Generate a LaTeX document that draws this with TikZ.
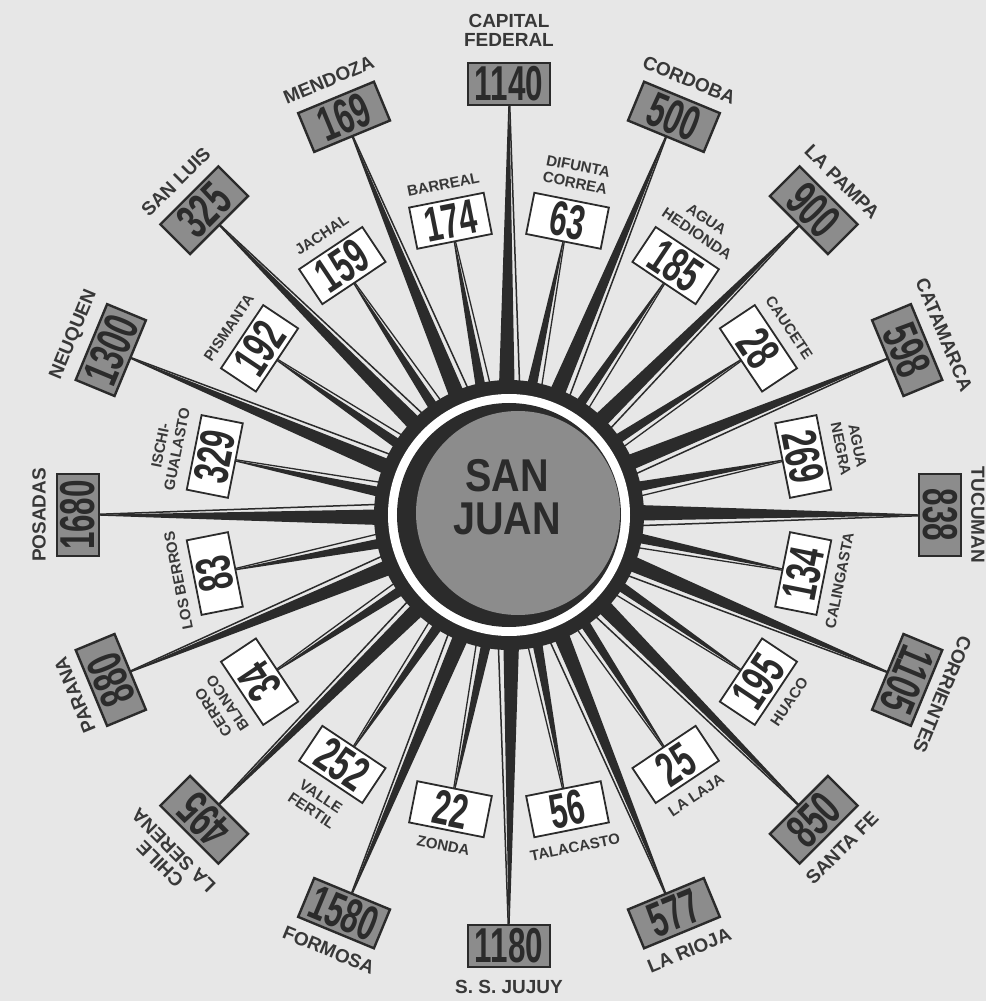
\documentclass[tikz,border=0pt]{standalone}
\usepackage{fontspec}
\setmainfont{Liberation Sans}
\newfontfamily\numfont{Liberation Sans}[FakeStretch=0.64]
\newfontfamily\hubfont{Liberation Sans}[FakeStretch=0.86]
\usetikzlibrary{calc}
\definecolor{paper}{HTML}{E7E7E7}
\definecolor{ink}{HTML}{2B2B2B}
\definecolor{plate}{HTML}{8C8C8C}
\definecolor{lblgray}{HTML}{383838}
\pgfdeclarelayer{paper}
\pgfdeclarelayer{spokes}
\pgfsetlayers{paper,spokes,main}
\tikzset{
  obox/.style={draw=ink, line width=2.4pt, fill=plate, minimum width=82pt, minimum height=42pt, inner sep=0pt, font=\numfont\bfseries\fontsize{49}{49}\selectfont, text=ink},
  ibox/.style={draw=ink, line width=1.8pt, fill=white, minimum width=76pt, minimum height=42pt, inner sep=0pt, font=\numfont\bfseries\fontsize{49}{49}\selectfont, text=ink},
  olbl/.style={font=\bfseries\fontsize{19}{19}\selectfont, text=lblgray, align=center, inner sep=0pt},
  ilbl/.style={font=\bfseries\fontsize{15}{17}\selectfont, text=lblgray, align=center, inner sep=0pt},
  disc/.style={circle, inner sep=0pt, draw=none},
  hubtxt/.style={font=\hubfont\bfseries\fontsize{46}{43}\selectfont, text=ink, align=center, inner sep=0pt},
}
% spoke to an outer plate: dark half on the ccw side, thin edge on the cw side
\newcommand{\ospoke}[2]{%
  \fill[ink] ([shift={(#2+4.5:128)}]ring.center) -- ([shift={(#2-2.5:128)}]ring.center) -- (#1.center) -- cycle;
  \draw[ink, line width=1.5pt] ([shift={(#2-4.8:128)}]ring.center) -- (#1.center);}
% spoke to an inner plate
\newcommand{\ispoke}[2]{%
  \fill[ink] ([shift={(#2+3.5:128)}]ring.center) -- ([shift={(#2-1:128)}]ring.center) -- (#1.center) -- cycle;
  \draw[ink, line width=1.3pt] ([shift={(#2-3.2:128)}]ring.center) -- (#1.center);}

\begin{document}
\begin{tikzpicture}[x=1pt,y=1pt]
\useasboundingbox (-509,-486) rectangle (477,515);
\begin{pgfonlayer}{paper}
\fill[paper] (-509,-486) rectangle (477,515);
\end{pgfonlayer}
% hub
\node[disc, fill=white, minimum size=242pt] (ring) at (0,0) {};
\node[disc, fill=ink, minimum size=224pt] (core) at (0,0) {};
\node[disc, fill=plate, minimum size=204pt] (sj) at (9,2) {};
\node[hubtxt] (sjname) at (-2,18) {SAN\\JUAN};
% outer plates
\node[obox] (cf) at (90:431) {1140};
\node[olbl] (cft) at (90:485) {CAPITAL\\FEDERAL};
\node[obox, rotate=-22.5] (cba) at (67.5:431) {500};
\node[olbl, rotate=-22.5] (cbat) at (67.5:471) {CORDOBA};
\node[obox, rotate=-45] (lpa) at (45:431) {900};
\node[olbl, rotate=-45] (lpat) at (45:471) {LA PAMPA};
\node[obox, rotate=-67.5] (cat) at (22.5:431) {598};
\node[olbl, rotate=-67.5] (catt) at (22.5:471) {CATAMARCA};
\node[obox, rotate=-90] (tuc) at (0:431) {838};
\node[olbl, rotate=-90] (tuct) at (0:469) {TUCUMAN};
\node[obox, rotate=-112.5] (ctes) at (-22.5:431) {1105};
\node[olbl, rotate=-112.5] (ctest) at (-22.5:469) {CORRIENTES};
\node[obox, rotate=45] (sfe) at (-45:431) {850};
\node[olbl, rotate=45] (sfet) at (-45:471) {SANTA FE};
\node[obox, rotate=22.5] (lri) at (-67.5:431) {577};
\node[olbl, rotate=22.5] (lrit) at (-67.5:471) {LA RIOJA};
\node[obox] (jjy) at (-90:431) {1180};
\node[olbl] (jjyt) at (-90:472) {S. S. JUJUY};
\node[obox, rotate=-22.5] (fsa) at (-112.5:431) {1580};
\node[olbl, rotate=-22.5] (fsat) at (-112.5:471) {FORMOSA};
\node[obox, rotate=135] (lse) at (-135:431) {495};
\node[olbl, rotate=135] (lset) at (-135:484) {CHILE\\LA SERENA};
\node[obox, rotate=112.5] (pna) at (-157.5:431) {880};
\node[olbl, rotate=112.5] (pnat) at (-157.5:470) {PARANA};
\node[obox, rotate=90] (pos) at (180:431) {1680};
\node[olbl, rotate=90] (post) at (180:470) {POSADAS};
\node[obox, rotate=67.5] (nqn) at (157.5:431) {1300};
\node[olbl, rotate=67.5] (nqnt) at (157.5:471) {NEUQUEN};
\node[obox, rotate=45] (slu) at (135:431) {325};
\node[olbl, rotate=45] (slut) at (135:471) {SAN LUIS};
\node[obox, rotate=22.5] (mza) at (112.5:431) {169};
\node[olbl, rotate=22.5] (mzat) at (112.5:471) {MENDOZA};
% inner plates
\node[ibox, rotate=11.25] (bar) at (101.25:300) {174};
\node[ilbl, rotate=11.25] (bart) at (101.25:337) {BARREAL};
\node[ibox, rotate=-11.25] (dif) at (78.75:300) {63};
\node[ilbl, rotate=-11.25] (dift) at (78.75:347) {DIFUNTA\\CORREA};
\node[ibox, rotate=-33.75] (agh) at (56.25:300) {185};
\node[ilbl, rotate=-33.75] (aght) at (56.25:347) {AGUA\\HEDIONDA};
\node[ibox, rotate=-56.25] (cau) at (33.75:300) {28};
\node[ilbl, rotate=-56.25] (caut) at (33.75:337) {CAUCETE};
\node[ibox, rotate=-78.75] (agn) at (11.25:300) {269};
\node[ilbl, rotate=-78.75] (agnt) at (11.25:347) {AGUA\\NEGRA};
\node[ibox, rotate=78.75] (cal) at (-11.25:300) {134};
\node[ilbl, rotate=78.75] (calt) at (-11.25:337) {CALINGASTA};
\node[ibox, rotate=56.25] (hua) at (-33.75:300) {195};
\node[ilbl, rotate=56.25] (huat) at (-33.75:337) {HUACO};
\node[ibox, rotate=33.75] (laj) at (-56.25:300) {25};
\node[ilbl, rotate=33.75] (lajt) at (-56.25:337) {LA LAJA};
\node[ibox, rotate=11.25] (tal) at (-78.75:300) {56};
\node[ilbl, rotate=11.25] (talt) at (-78.75:339) {TALACASTO};
\node[ibox, rotate=-11.25] (zon) at (-101.25:300) {22};
\node[ilbl, rotate=-11.25] (zont) at (-101.25:337) {ZONDA};
\node[ibox, rotate=-33.75] (vfe) at (-123.75:300) {252};
\node[ilbl, rotate=-33.75] (vfet) at (-123.75:347) {VALLE\\FERTIL};
\node[ibox, rotate=123.75] (cer) at (-146.25:300) {34};
\node[ilbl, rotate=123.75] (cert) at (-146.25:347) {CERRO\\BLANCO};
\node[ibox, rotate=101.25] (lbe) at (-168.75:300) {83};
\node[ilbl, rotate=101.25] (lbet) at (-168.75:337) {LOS BERROS};
\node[ibox, rotate=78.75] (isc) at (168.75:300) {329};
\node[ilbl, rotate=78.75] (isct) at (168.75:347) {ISCHI-\\GUALASTO};
\node[ibox, rotate=56.25] (pis) at (146.25:300) {192};
\node[ilbl, rotate=56.25] (pist) at (146.25:337) {PISMANTA};
\node[ibox, rotate=33.75] (jac) at (123.75:300) {159};
\node[ilbl, rotate=33.75] (jact) at (123.75:337) {JACHAL};
% spokes
\begin{pgfonlayer}{spokes}
\node[disc, fill=ink, minimum size=270pt] (halo) at (0,0) {};
\ospoke{cf}{90} \ospoke{cba}{67.5} \ospoke{lpa}{45} \ospoke{cat}{22.5}
\ospoke{tuc}{0} \ospoke{ctes}{-22.5} \ospoke{sfe}{-45} \ospoke{lri}{-67.5}
\ospoke{jjy}{-90} \ospoke{fsa}{-112.5} \ospoke{lse}{-135} \ospoke{pna}{-157.5}
\ospoke{pos}{180} \ospoke{nqn}{157.5} \ospoke{slu}{135} \ospoke{mza}{112.5}
\ispoke{bar}{101.25} \ispoke{dif}{78.75} \ispoke{agh}{56.25} \ispoke{cau}{33.75}
\ispoke{agn}{11.25} \ispoke{cal}{-11.25} \ispoke{hua}{-33.75} \ispoke{laj}{-56.25}
\ispoke{tal}{-78.75} \ispoke{zon}{-101.25} \ispoke{vfe}{-123.75} \ispoke{cer}{-146.25}
\ispoke{lbe}{-168.75} \ispoke{isc}{168.75} \ispoke{pis}{146.25} \ispoke{jac}{123.75}
\end{pgfonlayer}
\end{tikzpicture}
\end{document}
